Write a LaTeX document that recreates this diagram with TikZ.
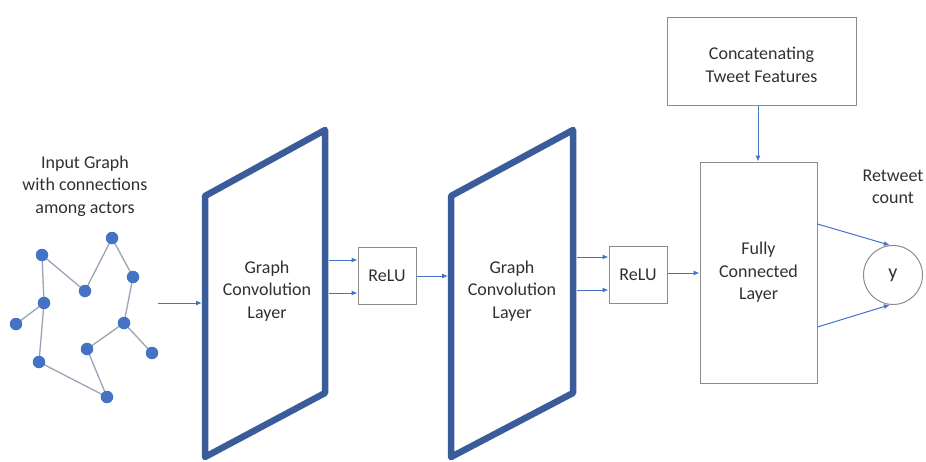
\documentclass[tikz,border=0pt]{standalone}
\usepackage{fontspec}
\setmainfont{Carlito}
\usetikzlibrary{arrows.meta}
\definecolor{arr}{HTML}{4472C4}
\definecolor{thickc}{HTML}{3B5C9A}
\definecolor{boxc}{HTML}{8C8C8C}
\definecolor{txt}{HTML}{303030}
\definecolor{edgec}{HTML}{9AA3B5}
\begin{document}
\begin{tikzpicture}[x=1pt,y=-1pt,
 every node/.style={font=\fontsize{18}{22.5}\selectfont, text=txt},
 lbl/.style={align=center},
 box/.style={draw=boxc, line width=1pt, align=center, inner sep=0pt},
 conn/.style={draw=arr, line width=1pt, -{Latex[length=6pt,width=5pt]}},
 dot/.style={circle, fill=arr, minimum size=12.5pt, inner sep=0pt},
 gedge/.style={draw=edgec, line width=1.3pt},
 layer/.style={draw=thickc, line width=6.5pt, line join=round}]
\useasboundingbox (0,0) rectangle (926,461);

% input graph
\node[lbl] (inlbl) at (85,186) {Input Graph\\with connections\\among actors};
\foreach \a/\x/\y in {A/42/255, B/112/238, C/133/277, D/85/291, E/44/303, F/16/324, G/124/323, H/87/349, I/152/353, J/39/362, K/107/397}
  \coordinate (\a) at (\x,\y);
\foreach \a/\b in {A/D, D/B, B/C, C/G, G/H, G/I, H/K, K/J, J/E, E/A, E/F}
  \draw[gedge] (\a) -- (\b);
\foreach \a in {A,B,C,D,E,F,G,H,I,J,K}
  \node[dot] (n\a) at (\a) {};

% layer 1
\coordinate (l1tl) at (205,196);
\coordinate (l1tr) at (325,130);
\coordinate (l1br) at (325,393);
\coordinate (l1bl) at (205,457);
\draw[layer] (l1tl) -- (l1tr) -- (l1br) -- (l1bl) -- cycle;
\node[lbl] (gc1) at (267,291) {Graph\\Convolution\\Layer};

% layer 2
\coordinate (l2tl) at (451,196);
\coordinate (l2tr) at (573,130);
\coordinate (l2br) at (573,393);
\coordinate (l2bl) at (451,457);
\draw[layer] (l2tl) -- (l2tr) -- (l2br) -- (l2bl) -- cycle;
\node[lbl] (gc2) at (512,291) {Graph\\Convolution\\Layer};

% boxes
\node[box, minimum width=58pt, minimum height=57pt] (r1) at (387,275.5) {ReLU};
\node[box, minimum width=58pt, minimum height=57pt] (r2) at (638,274.5) {ReLU};
\node[box, minimum width=117pt, minimum height=221pt] (fc) at (758.5,272.5) {Fully\\Connected\\Layer};
\node[box, minimum width=189pt, minimum height=88pt] (cat) at (761.5,61) {};
\node[lbl] (cattxt) at (761.5,65) {Concatenating\\Tweet Features};
\node[circle, draw=boxc, line width=1pt, minimum size=59pt, inner sep=0pt, font=\fontsize{20}{24}\selectfont] (y) at (893,275) {y};
\node[lbl] (rc) at (893,187) {Retweet\\count};

% connectors
\coordinate (inA) at (158,303);
\coordinate (inB) at (202,303);
\draw[conn] (inA) -- (inB);

\coordinate (o1a) at (329,260);
\coordinate (o1b) at (329,293);
\draw[conn] (o1a) -- (o1a -| r1.west);
\draw[conn] (o1b) -- (o1b -| r1.west);
\coordinate (i2) at (448,276);
\draw[conn] (r1.east |- i2) -- (i2);

\coordinate (o2a) at (577,257);
\coordinate (o2b) at (577,290);
\draw[conn] (o2a) -- (o2a -| r2.west);
\draw[conn] (o2b) -- (o2b -| r2.west);
\coordinate (i3) at (0,273);
\draw[conn] (r2.east |- i3) -- (fc.west |- i3);

\coordinate (cx) at (758,0);
\coordinate (f1) at (0,224);
\coordinate (f2) at (0,327);
\draw[conn] (cat.south -| cx) -- (fc.north -| cx);
\draw[conn] (fc.east |- f1) -- (y.96);
\draw[conn] (fc.east |- f2) -- (y.-96);
\end{tikzpicture}
\end{document}
